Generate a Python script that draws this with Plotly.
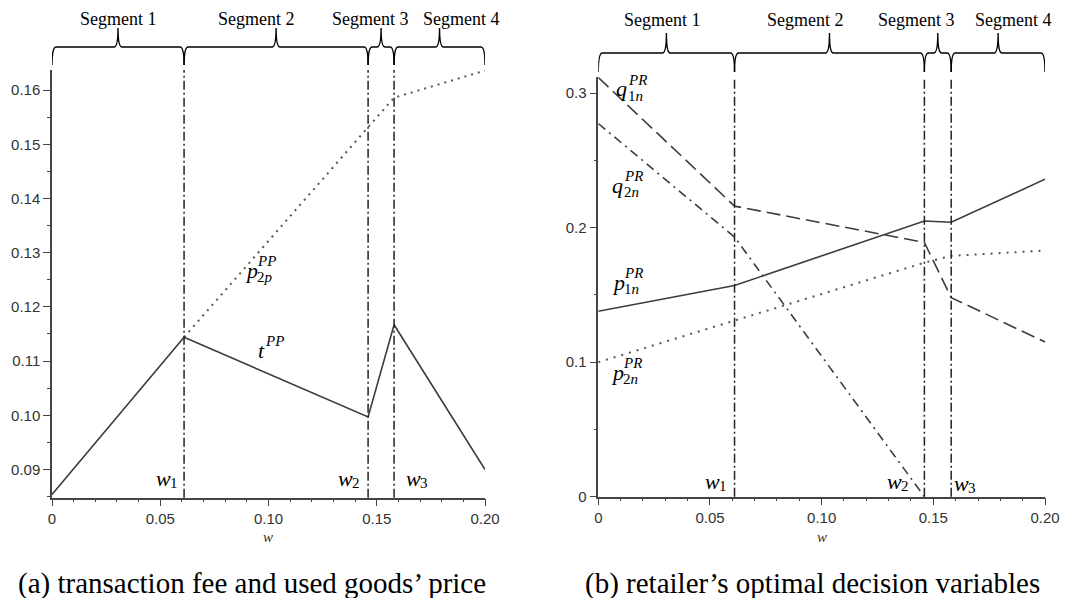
import plotly.graph_objects as go

# the page body keeps an 8px margin, so the figure is made 16px smaller
# and every pixel position below is measured on the final 1075x606 picture
W, H = 1059, 590
OFF = 8

# ---- data ----
w_breaks = [0.061, 0.146, 0.158]           # w1, w2, w3
w_grid = [0.0, 0.061, 0.146, 0.158, 0.2]

# panel (a)
t_pp = [0.0854, 0.1144, 0.0997, 0.1167, 0.0900]
p2p_pp = [None, 0.1144, 0.1533, 0.1586, 0.1636]

# panel (b)
q1n_pr = [0.3116, 0.216, 0.189, 0.148, 0.115]
q2n_pr = [0.2774, 0.193, 0.0, None, None]
p1n_pr = [0.1378, 0.157, 0.205, 0.204, 0.236]
p2n_pr = [0.100, 0.131, 0.174, 0.179, 0.183]

seg_names = ['Segment 1', 'Segment 2', 'Segment 3', 'Segment 4']
x_ticks = [0, 0.05, 0.10, 0.15, 0.20]
x_ticktext = ['0', '0.05', '0.10', '0.15', '0.20']
ya_ticks = [0.09, 0.10, 0.11, 0.12, 0.13, 0.14, 0.15, 0.16]
ya_ticktext = ['0.09', '0.10', '0.11', '0.12', '0.13', '0.14', '0.15', '0.16']
yb_ticks = [0, 0.1, 0.2, 0.3]
yb_ticktext = ['0', '0.1', '0.2', '0.3']

ink = '#3c3c3c'
serif = 'Liberation Serif'


def px(x):
    return (x - OFF) / W


def py(y):
    return 1 - (y - OFF) / H


fig = go.Figure()

# panel (a) curves
fig.add_trace(go.Scatter(x=w_grid, y=t_pp, xaxis='x', yaxis='y', mode='lines',
                         line=dict(color=ink, width=1.6)))
fig.add_trace(go.Scatter(x=w_grid, y=p2p_pp, xaxis='x', yaxis='y', mode='lines',
                         line=dict(color='#555', width=2, dash='2px,5px')))

# panel (b) curves
fig.add_trace(go.Scatter(x=w_grid, y=q1n_pr, xaxis='x2', yaxis='y2', mode='lines',
                         line=dict(color=ink, width=1.6, dash='14px,6px')))
fig.add_trace(go.Scatter(x=w_grid, y=q2n_pr, xaxis='x2', yaxis='y2', mode='lines',
                         line=dict(color=ink, width=1.6, dash='9px,5px,2px,5px')))
fig.add_trace(go.Scatter(x=w_grid, y=p1n_pr, xaxis='x2', yaxis='y2', mode='lines',
                         line=dict(color=ink, width=1.6)))
fig.add_trace(go.Scatter(x=w_grid, y=p2n_pr, xaxis='x2', yaxis='y2', mode='lines',
                         line=dict(color='#555', width=2, dash='2px,6px')))

# vertical dash-dot lines at the breakpoints
for xr, yr in [('x', 'y domain'), ('x2', 'y2 domain')]:
    for wb in w_breaks:
        fig.add_shape(type='line', xref=xr, yref=yr, x0=wb, x1=wb, y0=0, y1=1,
                      line=dict(color='#222', width=1.5, dash='9px,3px,2px,3px'))


def brace(xa, xb, y_bot, y_hor, y_tip, r, xref):
    """curly brace between xa and xb (data x, pixel y)"""
    xm = (xa + xb) / 2
    yb, yh, yt = py(y_bot), py(y_hor), py(y_tip)
    path = (f'M {xa},{yb} Q {xa},{yh} {xa + r},{yh} L {xm - r},{yh} '
            f'Q {xm},{yh} {xm},{yt} Q {xm},{yh} {xm + r},{yh} '
            f'L {xb - r},{yh} Q {xb},{yh} {xb},{yb}')
    fig.add_shape(type='path', path=path, xref=xref, yref='paper',
                  line=dict(color='black', width=1.4))
    return xm


edges = [0.0] + w_breaks + [0.2]
panels = [
    # xref, brace bottom/horizontal/tip (px), label y, label x shifts, px per unit
    ('x', 65, 47, 28, 19, [0, -20, -11, 22], 433 / 0.2),
    ('x2', 72, 53, 33, 20, [-4, -24, -21, 15], 446.7 / 0.2),
]
for xref, yb, yh, yt, ylab, shifts, scale in panels:
    for i, name in enumerate(seg_names):
        xm = brace(edges[i], edges[i + 1], yb, yh, yt, 4 / scale, xref)
        fig.add_annotation(x=xm, xref=xref, y=py(ylab), yref='paper', text=name,
                           showarrow=False, xshift=shifts[i], xanchor='center',
                           yanchor='middle', borderpad=0,
                           font=dict(family=serif, size=18, color='black'))

base_width = {'p': 12, 'q': 12, 'w': 14, 't': 7}


def math_label(xp, yp, base, sub, sup, sub_dy=6, sup_dy=-8):
    fig.add_annotation(x=px(xp), y=py(yp), xref='paper', yref='paper',
                       text=f'<i>{base}</i>', showarrow=False,
                       xanchor='left', yanchor='middle',
                       font=dict(family=serif, size=22, color='black'))
    xs = xp + base_width[base]
    for txt, dy in [(sub, sub_dy), (sup, sup_dy)]:
        if txt:
            fig.add_annotation(x=px(xs), y=py(yp + dy), xref='paper', yref='paper',
                               text=txt, showarrow=False, xanchor='left',
                               yanchor='middle',
                               font=dict(family=serif, size=15, color='black'))


# panel (a) labels
math_label(243, 270, 'p', '2<i>p</i>', '<i>PP</i>', sub_dy=7, sup_dy=-9)
math_label(256, 350, 't', None, '<i>PP</i>', sup_dy=-9)
math_label(154, 478, 'w', '1', None, sub_dy=5)
math_label(336, 478, 'w', '2', None, sub_dy=5)
math_label(404, 478, 'w', '3', None, sub_dy=5)

# panel (b) labels
math_label(614, 89, 'q', '1<i>n</i>', '<i>PR</i>', sub_dy=7, sup_dy=-9)
math_label(610, 185, 'q', '2<i>n</i>', '<i>PR</i>', sub_dy=7, sup_dy=-9)
math_label(610, 282, 'p', '1<i>n</i>', '<i>PR</i>', sub_dy=7, sup_dy=-9)
math_label(609, 372, 'p', '2<i>n</i>', '<i>PR</i>', sub_dy=7, sup_dy=-9)
math_label(703, 481, 'w', '1', None, sub_dy=5)
math_label(885, 481, 'w', '2', None, sub_dy=5)
math_label(952, 483, 'w', '3', None, sub_dy=5)

# axis titles
for xc in [268, 822]:
    fig.add_annotation(x=px(xc), y=py(537), xref='paper', yref='paper', text='<i>w</i>',
                       showarrow=False, xanchor='center', yanchor='middle',
                       font=dict(family=serif, size=15, color='#333'))

# captions
fig.add_annotation(x=px(252), y=py(583), xref='paper', yref='paper',
                   text='(a) transaction fee and used goods\u2019 price', showarrow=False,
                   xanchor='center', yanchor='middle', borderpad=0,
                   font=dict(family=serif, size=29, color='black'))
fig.add_annotation(x=px(812), y=py(583), xref='paper', yref='paper',
                   text='(b) retailer\u2019s optimal decision variables', showarrow=False,
                   xanchor='center', yanchor='middle', borderpad=0,
                   font=dict(family=serif, size=29, color='black'))

tickfont = dict(family='Liberation Sans', size=15, color='#333')
axis_common = dict(showline=True, linecolor='#444', linewidth=1.5, ticks='outside',
                   ticklen=7, tickwidth=1.2, tickcolor='#444', showgrid=False,
                   zeroline=False, tickfont=tickfont, tickmode='array',
                   automargin=False)

fig.update_layout(
    width=W, height=H, margin=dict(l=0, r=0, t=0, b=0),
    paper_bgcolor='white', plot_bgcolor='white', showlegend=False,
    xaxis=dict(domain=[px(52), px(485)], range=[0, 0.2], anchor='y',
               tickvals=x_ticks, ticktext=x_ticktext,
               minor=dict(tickmode='linear', tick0=0, dtick=0.01, ticks='outside',
                          ticklen=3, tickcolor='#444'),
               **axis_common),
    yaxis=dict(domain=[py(497.7), py(70)], range=[0.0848, 0.1637], anchor='x',
               tickvals=ya_ticks, ticktext=ya_ticktext,
               minor=dict(tickmode='linear', tick0=0.09, dtick=0.005, ticks='outside',
                          ticklen=3, tickcolor='#444'),
               **axis_common),
    xaxis2=dict(domain=[px(598.3), px(1045)], range=[0, 0.2], anchor='y2',
                tickvals=x_ticks, ticktext=x_ticktext,
                minor=dict(tickmode='linear', tick0=0, dtick=0.01, ticks='outside',
                           ticklen=3, tickcolor='#444'),
                **axis_common),
    yaxis2=dict(domain=[py(496.7), py(77)], range=[0, 0.312], anchor='x2',
                tickvals=yb_ticks, ticktext=yb_ticktext,
                minor=dict(tickmode='linear', tick0=0, dtick=0.05, ticks='outside',
                           ticklen=3, tickcolor='#444'),
                **axis_common),
)

fig.write_html('out.html')
